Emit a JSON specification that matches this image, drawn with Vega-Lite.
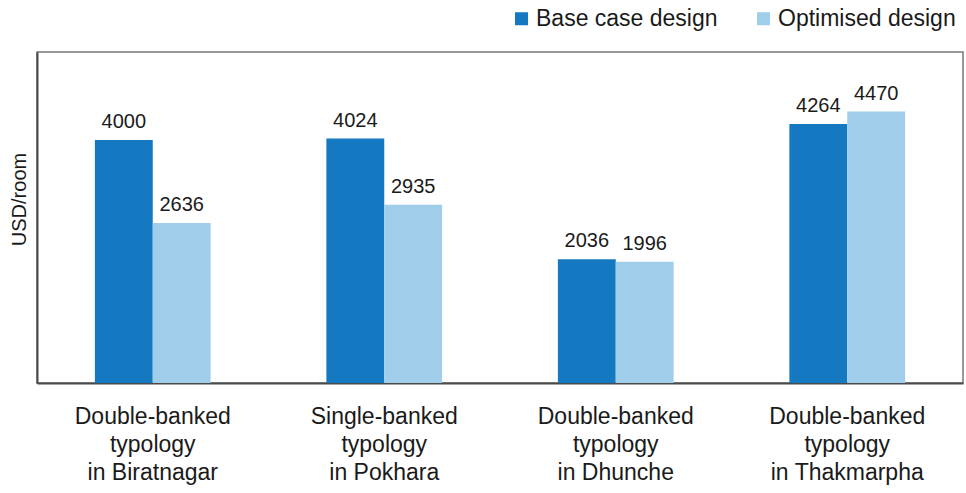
{
  "$schema": "https://vega.github.io/schema/vega-lite/v6.json",
  "width": 926,
  "height": 331,
  "autosize": {"type": "none"},
  "padding": {"left": 37, "top": 52, "right": 3, "bottom": 110},
  "background": "white",
  "config": {
    "view": {"stroke": "#777777", "strokeWidth": 1.5},
    "font": "Liberation Sans"
  },
  "data": {
    "values": [
      {"loc": "Double-banked|typology|in Biratnagar", "design": "Base case design", "value": 4000},
      {"loc": "Double-banked|typology|in Biratnagar", "design": "Optimised design", "value": 2636},
      {"loc": "Single-banked|typology|in Pokhara", "design": "Base case design", "value": 4024},
      {"loc": "Single-banked|typology|in Pokhara", "design": "Optimised design", "value": 2935},
      {"loc": "Double-banked|typology|in Dhunche", "design": "Base case design", "value": 2036},
      {"loc": "Double-banked|typology|in Dhunche", "design": "Optimised design", "value": 1996},
      {"loc": "Double-banked|typology|in Thakmarpha", "design": "Base case design", "value": 4264},
      {"loc": "Double-banked|typology|in Thakmarpha", "design": "Optimised design", "value": 4470}
    ]
  },
  "encoding": {
    "x": {
      "field": "loc",
      "type": "nominal",
      "sort": ["Double-banked|typology|in Biratnagar", "Single-banked|typology|in Pokhara", "Double-banked|typology|in Dhunche", "Double-banked|typology|in Thakmarpha"],
      "scale": {"paddingInner": 0.5, "paddingOuter": 0.25},
      "axis": {
        "title": null,
        "labelAngle": 0,
        "labelExpr": "split(datum.label, '|')",
        "labelFontSize": 23,
        "labelLineHeight": 28,
        "labelPadding": 22,
        "labelBaseline": "top",
        "labelLimit": 400,
        "ticks": false,
        "domainColor": "#4a4a4a",
        "domainWidth": 2,
        "labelColor": "#1a1a1a"
      }
    },
    "xOffset": {
      "field": "design",
      "type": "nominal",
      "sort": ["Base case design", "Optimised design"],
      "scale": {"paddingInner": 0, "paddingOuter": 0}
    },
    "y": {
      "field": "value",
      "type": "quantitative",
      "scale": {"domain": [0, 5450], "nice": false},
      "axis": {
        "title": "USD/room",
        "labels": false,
        "ticks": false,
        "grid": false,
        "domainColor": "#4a4a4a",
        "domainWidth": 2,
        "titleFontSize": 20,
        "titleFontWeight": "normal",
        "titleX": -18,
        "titleY": 147,
        "titleAngle": -90,
        "titleAlign": "center",
        "titleBaseline": "middle",
        "titleColor": "#1a1a1a"
      }
    }
  },
  "layer": [
    {
      "mark": {"type": "bar"},
      "encoding": {
        "color": {
          "field": "design",
          "type": "nominal",
          "sort": ["Base case design", "Optimised design"],
          "scale": {"range": ["#1479c1", "#9fcdea"]},
          "legend": {
            "title": null,
            "orient": "none",
            "legendX": 473,
            "legendY": -45,
            "direction": "horizontal",
            "symbolType": "square",
            "symbolSize": 169,
            "symbolStrokeWidth": 0,
            "symbolOpacity": 1,
            "labelFontSize": 23,
            "labelLimit": 400,
            "labelOffset": 3,
            "columnPadding": 34,
            "padding": 0,
            "labelColor": "#1a1a1a"
          }
        }
      }
    },
    {
      "mark": {"type": "text", "baseline": "bottom", "dy": -8, "fontSize": 20, "color": "#1a1a1a"},
      "encoding": {
        "text": {"field": "value", "type": "quantitative", "format": "d"}
      }
    }
  ]
}
